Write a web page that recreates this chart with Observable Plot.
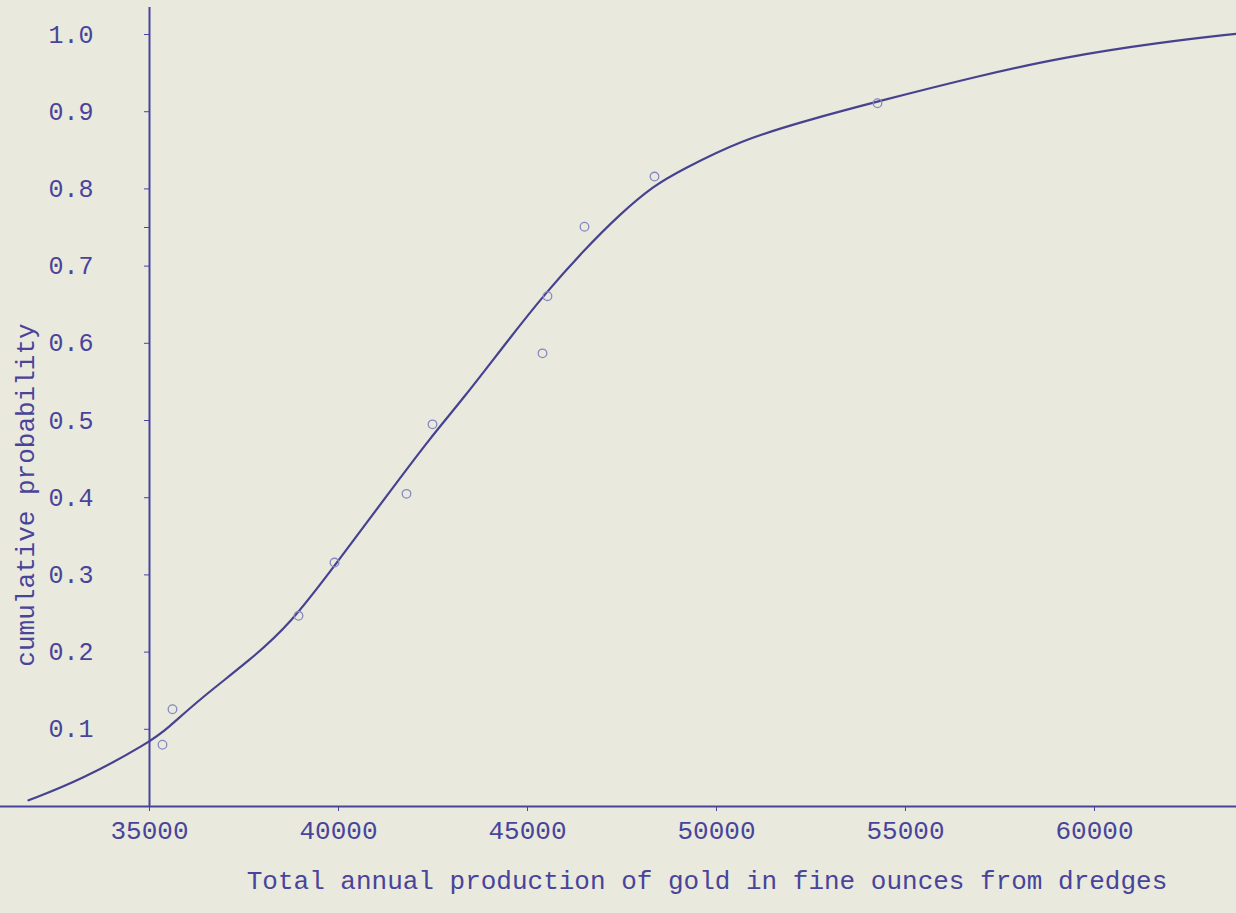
<!DOCTYPE html>
<html>
<head>
<meta charset="utf-8">
<script src="https://cdn.jsdelivr.net/npm/d3@7"></script>
<script src="https://cdn.jsdelivr.net/npm/@observablehq/plot@0.6"></script>
<style>
  html, body { margin: 0; padding: 0; background: #e9e9de; }
  #chart { width: 1236px; height: 913px; overflow: hidden; }
</style>
</head>
<body>
<div id="chart"></div>
<script>
// ---- data ----
const xTicks = [35000, 40000, 45000, 50000, 55000, 60000];
const yTicks = [0.1, 0.2, 0.3, 0.4, 0.5, 0.6, 0.7, 0.8, 0.9, 1.0];
const yHalfTicks = [0.75];

// observed points (annual production, cumulative probability)
const obsX = [35344, 35608, 38942, 39894, 41799, 42487, 45397, 45529, 46508, 48360, 54259];
const obsP = [0.080, 0.126, 0.247, 0.316, 0.405, 0.495, 0.587, 0.661, 0.751, 0.816, 0.911];

// fitted smooth curve
const curveX = [31799, 33175, 35000, 35476, 36349, 37672, 38730, 39868, 41376, 42434, 43280,
                44550, 45476, 46481, 47460, 48333, 49048, 50635, 52407, 54153, 56984, 59101, 61746, 63757];
const curveP = [0.008, 0.034, 0.083, 0.101, 0.140, 0.190, 0.237, 0.310, 0.409, 0.478, 0.527,
                0.608, 0.665, 0.720, 0.768, 0.804, 0.824, 0.863, 0.889, 0.912, 0.947, 0.970, 0.990, 1.001];

const xDomain = [35000, 63757];
const xAxisExtent = [31058, 63757];
const yDomain = [0, 1.035];

const xTitle = "Total annual production of gold in fine ounces from dredges";
const yTitle = "cumulative probability";

// ---- build tables ----
const points = obsX.map((x, i) => ({x, p: obsP[i]}));
const curve = curveX.map((x, i) => ({x, p: curveP[i]}));

const ink = "#48449a";
const font = "'Liberation Mono', 'DejaVu Sans Mono', monospace";

const chart = Plot.plot({
  width: 1236,
  height: 913,
  marginLeft: 149,
  marginRight: 0,
  marginTop: 7,
  marginBottom: 107,
  x: {domain: xDomain},
  y: {domain: yDomain},
  style: {background: "transparent", fontFamily: font, color: ink, fontSize: "25px"},
  marks: [
    // axes lines
    Plot.ruleY([0], {x1: xAxisExtent[0], x2: xAxisExtent[1], stroke: ink, strokeWidth: 2}),
    Plot.ruleX([xDomain[0]], {y1: yDomain[0], y2: yDomain[1], stroke: ink, strokeWidth: 2}),
    Plot.axisX({
      ticks: xTicks, tickSize: 5, tickPadding: 9, tickFormat: d => String(d),
      label: null, fontSize: 26, fill: ink, color: ink
    }),
    Plot.axisY({
      ticks: yTicks, tickSize: 5, tickPadding: 51, tickFormat: d3.format(".1f"),
      label: null, fontSize: 25, fill: ink, color: ink
    }),
    Plot.axisY({
      ticks: yHalfTicks, tickSize: 5, tickFormat: () => "", label: null, color: ink
    }),
    // fitted curve
    Plot.line(curve, {x: "x", y: "p", curve: "basis", stroke: "#46428f", strokeWidth: 2.2}),
    // observations
    Plot.dot(points, {x: "x", y: "p", r: 4.3, stroke: "#8589be", strokeWidth: 1.3, fill: "none"}),
    // titles
    Plot.text([xTitle], {frameAnchor: "bottom", dx: 14, dy: 82, fontSize: 26, fill: ink, textAnchor: "middle"}),
    Plot.text([yTitle], {frameAnchor: "left", dx: -124, dy: 88, rotate: -90, fontSize: 26, fill: ink, textAnchor: "middle"})
  ]
});
document.getElementById("chart").append(chart);
</script>
</body>
</html>
